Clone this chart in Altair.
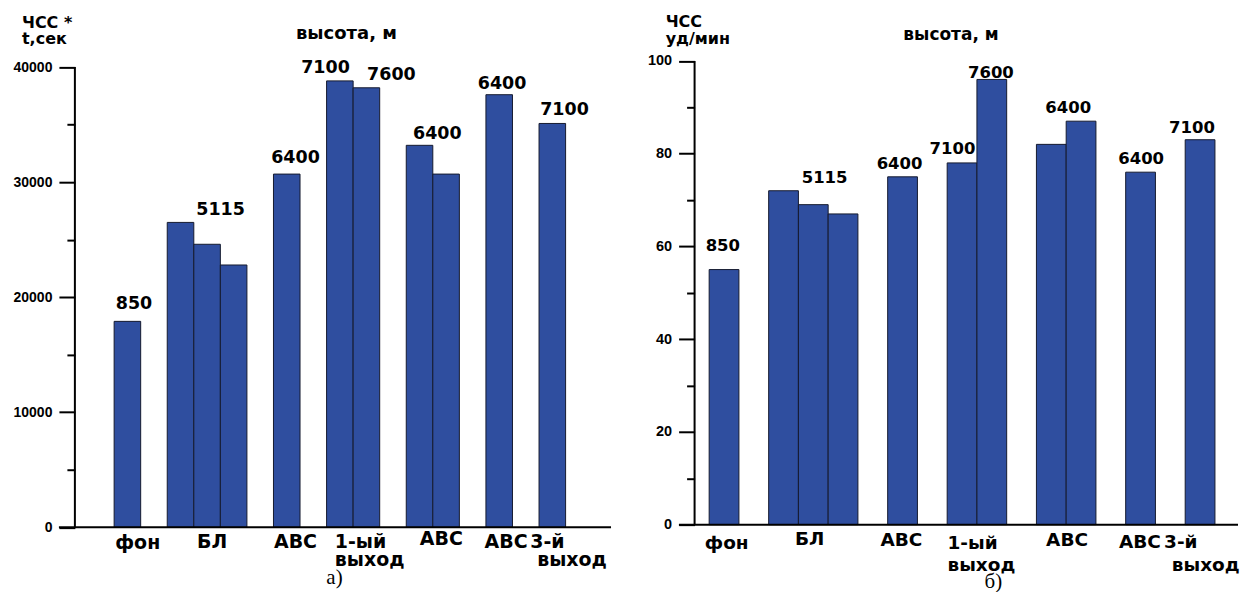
import altair as alt
import pandas as pd

# ---------------- data ----------------
# bar slot positions (shared layout of both panels)
slots = [0, 2, 3, 4, 6, 8, 9, 11, 12, 14, 16]
# panel а): ЧСС * t, сек
values_a = [17900, 26500, 24600, 22800, 30700, 38800, 38200, 33200, 30700, 37600, 35100]
# panel б): ЧСС, уд/мин
values_b = [55, 72, 69, 67, 75, 78, 96, 82, 87, 76, 83]

# altitude labels (высота, м)
alt_text = ["850", "5115", "6400", "7100", "7600", "6400", "6400", "7100"]
alt_x_a = [0.75, 4.01, 6.83, 7.96, 10.44, 12.17, 14.61, 16.96]
alt_y_a = [19420, 27560, 32090, 39950, 39300, 34170, 38560, 36260]
alt_x_b = [0.46, 3.88, 6.40, 8.18, 9.47, 12.07, 14.52, 16.23]
alt_y_b = [60.1, 74.8, 77.7, 80.9, 97.4, 89.9, 78.8, 85.6]

# category labels
cat_text = ["фон", "БЛ", "АВС", "1-ый", "выход", "АВС", "АВС", "3-й", "выход"]
cat_left = [False, False, False, True, True, False, False, True, True]
cat_x_a = [0.89, 3.69, 6.83, 8.31, 8.31, 12.32, 14.76, 15.67, 15.93]
cat_y_a = [541, 540, 540, 540, 558, 537, 540, 540, 558]
cat_x_b = [0.59, 3.38, 6.46, 8.01, 8.01, 12.03, 14.48, 15.29, 15.55]
cat_y_b = [541, 537, 538, 541, 563, 538, 540, 540, 563]

BAR = "#2F4E9F"
H = 580
TXT = "DejaVu Sans"


def panel(W, x0px, slotw, xr, yr, ydom, ystep, ymajor, yoff, values,
          ax, ay, afs, cx, cy, cfs, titles, sub, sub_x, sub_y, tick_fs):
    xdom = [(r - x0px) / slotw for r in xr]
    xs = alt.Scale(domain=xdom, range=xr, nice=False, zero=False)
    ys = alt.Scale(domain=ydom, range=yr, nice=False, zero=False)
    x_axis_pos = (yoff - x0px) / slotw  # y-axis location in slot units

    bars_df = pd.DataFrame({"x0": slots, "x1": [s + 1 for s in slots], "v": values,
                            "z": [0] * len(slots)})
    majors = list(range(ydom[0], ydom[1] + 1, ymajor))
    minors = [v for v in range(ydom[0], ydom[1] + 1, ystep) if v % ymajor != 0]
    yaxis = alt.Axis(
        orient="left", values=majors, format="d", title=None, grid=False,
        domain=False, tickColor="black", tickWidth=2,
        tickSize=16, labelFont="Liberation Sans", labelFontWeight="bold",
        labelFontSize=tick_fs, labelColor="black", labelPadding=7,
        labelFlush=False, labelOverlap=False, offset=-yoff,
    )
    yaxis_minor = alt.Axis(
        orient="left", values=minors, title=None, grid=False, domain=False,
        labels=False, tickColor="black", tickWidth=2, tickSize=8, offset=-yoff,
    )
    bars = alt.Chart(bars_df).mark_bar(color=BAR, stroke="#151a2e", strokeWidth=1).encode(
        x=alt.X("x0:Q", scale=xs, axis=None),
        x2="x1:Q",
        y=alt.Y("v:Q", scale=ys, axis=yaxis),
        y2="z:Q",
    )

    # axis lines (drawn through the same scales)
    hline = alt.Chart(pd.DataFrame({"a": [xdom[0]], "b": [xdom[1]], "y": [ydom[0]]})).mark_rule(
        color="black", strokeWidth=2).encode(
        x=alt.X("a:Q", scale=xs, axis=None), x2="b:Q",
        y=alt.Y("y:Q", scale=ys, axis=None))
    vline = alt.Chart(pd.DataFrame({"x": [x_axis_pos], "a": [ydom[0]], "b": [ydom[1]]})).mark_rule(
        color="black", strokeWidth=2).encode(
        x=alt.X("x:Q", scale=xs, axis=None),
        y=alt.Y("a:Q", scale=ys, axis=None), y2="b:Q")

    alt_df = pd.DataFrame({"t": alt_text, "x": ax, "y": ay})
    alts = alt.Chart(alt_df).mark_text(font=TXT, fontWeight="bold", fontSize=afs,
                                       color="black", baseline="middle", align="center").encode(
        x=alt.X("x:Q", scale=xs, axis=None),
        y=alt.Y("y:Q", scale=ys, axis=yaxis_minor),
        text="t:N",
    )

    cat_df = pd.DataFrame({"t": cat_text, "x": cx, "py": cy, "left": cat_left})
    cat_c = alt.Chart(cat_df[~cat_df["left"]]).mark_text(
        font=TXT, fontWeight="bold", fontSize=cfs, color="black", align="center",
        baseline="alphabetic").encode(
        x=alt.X("x:Q", scale=xs, axis=None),
        y=alt.Y("py:Q", scale=None, axis=None),
        text="t:N",
    )
    cat_l = alt.Chart(cat_df[cat_df["left"]]).mark_text(
        font=TXT, fontWeight="bold", fontSize=cfs, color="black", align="left",
        baseline="alphabetic").encode(
        x=alt.X("x:Q", scale=xs, axis=None),
        y=alt.Y("py:Q", scale=None, axis=None),
        text="t:N",
    )

    layers = [bars, hline, vline, alts, cat_c, cat_l]
    for (t, px, py, fs, al) in titles:
        tdf = pd.DataFrame({"t": [t], "px": [px], "py": [py]})
        layers.append(alt.Chart(tdf).mark_text(
            font=TXT, fontWeight="bold", fontSize=fs, color="black", align=al,
            baseline="alphabetic").encode(
            x=alt.X("px:Q", scale=None, axis=None),
            y=alt.Y("py:Q", scale=None, axis=None),
            text="t:N"))
    sdf = pd.DataFrame({"t": [sub], "px": [sub_x], "py": [sub_y]})
    layers.append(alt.Chart(sdf).mark_text(
        font="Liberation Serif", fontSize=21, color="black", align="center",
        baseline="alphabetic").encode(
        x=alt.X("px:Q", scale=None, axis=None),
        y=alt.Y("py:Q", scale=None, axis=None),
        text="t:N"))
    return alt.layer(*layers).resolve_axis(y="independent").properties(width=W, height=H)


left = panel(
    W=620, x0px=106.3, slotw=26.6, xr=[51, 604], yr=[519.7, 58.7],
    ydom=[0, 40000], ystep=5000, ymajor=10000, yoff=67, values=values_a,
    ax=alt_x_a, ay=alt_y_a, afs=17.5, cx=cat_x_a, cy=cat_y_a, cfs=19,
    titles=[("ЧСС *", 14, 20, 16, "left"), ("t,сек", 14, 36, 16, "left"),
            ("высота, м", 339, 31, 18, "center")],
    sub="а)", sub_x=327, sub_y=576, tick_fs=14,
)

right = panel(
    W=612, x0px=82.3, slotw=29.8, xr=[52, 612], yr=[517, 52.5],
    ydom=[0, 100], ystep=10, ymajor=20, yoff=67.7, values=values_b,
    ax=alt_x_b, ay=alt_y_b, afs=16.5, cx=cat_x_b, cy=cat_y_b, cfs=18.5,
    titles=[("ЧСС", 38.7, 19, 16, "left"), ("уд/мин", 38.7, 36, 16, "left"),
            ("высота, м", 324.5, 32, 17, "center")],
    sub="б)", sub_x=367, sub_y=580, tick_fs=14.5,
)

chart = (alt.hconcat(left, right, spacing=0)
         .properties(padding=0)
         .configure_view(stroke=None)
         .configure_axis(tickColor="black", tickWidth=2))

chart.save("out.html", embed_options={"renderer": "svg", "actions": False})
